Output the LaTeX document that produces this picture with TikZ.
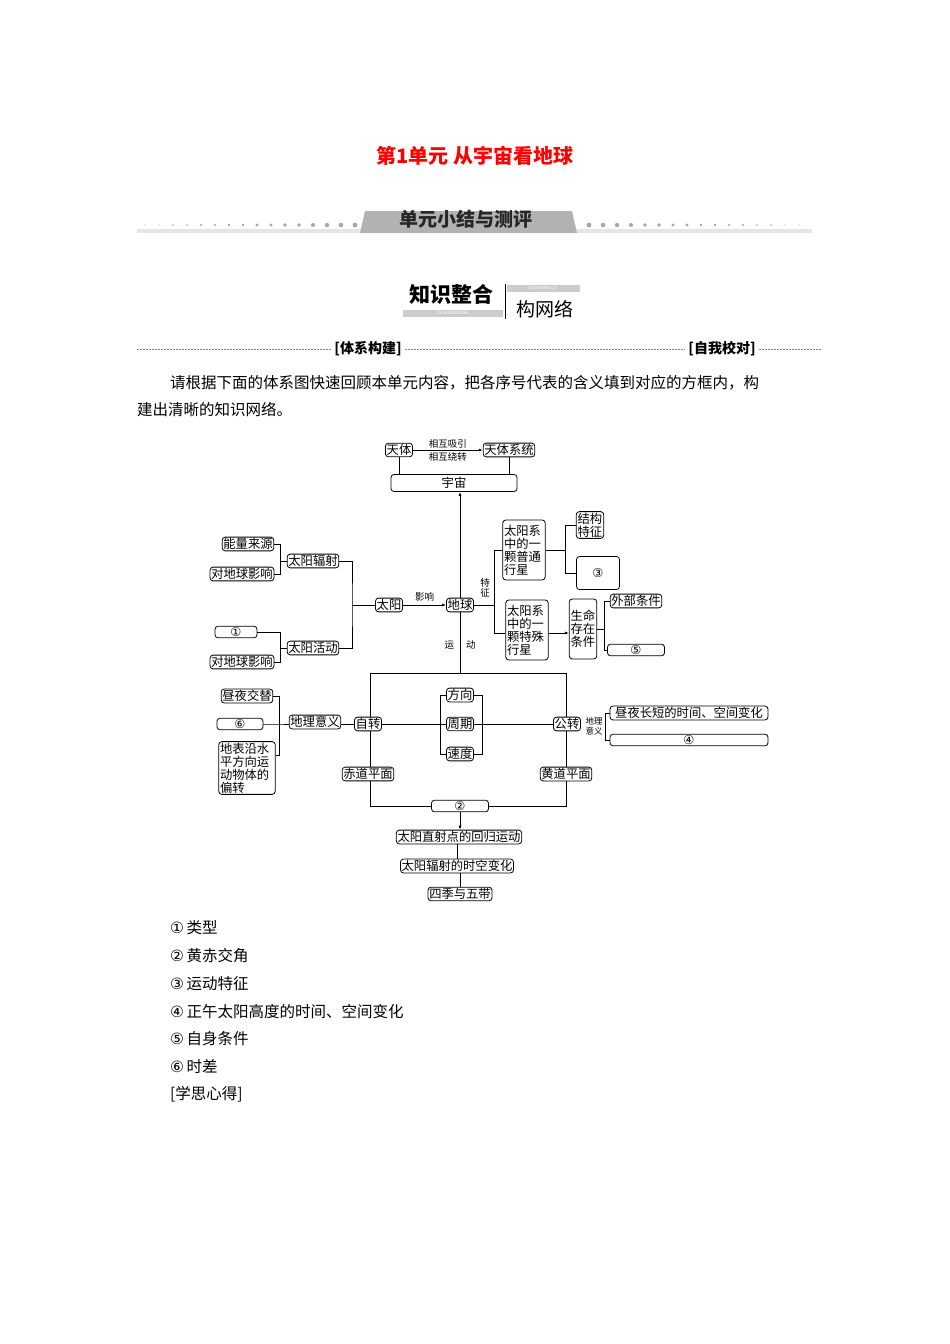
\documentclass[tikz,border=0pt]{standalone}
\usepackage{fontspec}
\setmainfont{Noto Sans CJK SC}
\newfontfamily\cjk{Noto Sans CJK SC}
\newfontfamily\dejavu{DejaVu Sans}
\usetikzlibrary{arrows.meta}
\begin{document}
\begin{tikzpicture}[x=1pt,y=-1pt,
  bx/.style={draw,rounded corners=3pt,line width=0.8pt,inner sep=1.2pt,font=\fontsize{12.3}{13}\selectfont,fill=white},
  lb/.style={font=\fontsize{9.5}{10}\selectfont,inner sep=0pt},
  ln/.style={line width=0.8pt},
  ar/.style={line width=0.8pt,-{Latex[length=4pt,width=3pt]}},
  tx/.style={anchor=west,font=\fontsize{15.5}{17}\selectfont,inner sep=0pt}]
\useasboundingbox (0,0) rectangle (950,1344);
% header
\node[text=red,font=\fontsize{20}{22}\selectfont\bfseries] (title) at (475,156) {第1单元\ 从宇宙看地球};
\fill[gray!20] (137,229) rectangle (812,233);
\foreach \i in {0,...,15}{\fill[gray!70] (145+\i*14,225) circle ({0.6+\i*0.12});}
\foreach \i in {0,...,15}{\fill[gray!70] (589+\i*14,225) circle ({2.4-\i*0.12});}
\fill[gray!60] (360,233) -- (365,211) -- (572,211) -- (577,233) -- cycle;
\node[font=\fontsize{19}{20}\selectfont\bfseries,text=black!85] (banner) at (466,219) {单元小结与测评};
\node[font=\fontsize{21}{22}\selectfont\bfseries] (zs) at (451,294) {知识整合};
\fill[gray!40] (403,310) rectangle (503,317);
\node[font=\fontsize{4}{4}\selectfont,text=white] (zp) at (453,313.5) {ZHISHIZHENGHE};
\fill[gray!40] (507,285) rectangle (580,292);
\node[font=\fontsize{4}{4}\selectfont,text=white] (gp) at (543,288.5) {GOUWANGLUO};
\draw[line width=0.8pt] (505,284) -- (505,319);
\node[font=\fontsize{19}{20}\selectfont] (gw) at (545,309) {构网络};
\node[font=\fontsize{14}{15}\selectfont\bfseries] (tx1) at (368,349) {[体系构建]};
\node[font=\fontsize{14}{15}\selectfont\bfseries] (tx2) at (722,349) {[自我校对]};
\draw[gray,dash pattern=on 1.5pt off 1.5pt] (137,349) -- (tx1.west);
\draw[gray,dash pattern=on 1.5pt off 1.5pt] (tx1.east) -- (tx2.west);
\draw[gray,dash pattern=on 1.5pt off 1.5pt] (tx2.east) -- (822,349);
\node[tx] (p1) at (170,383) {请根据下面的体系图快速回顾本单元内容，把各序号代表的含义填到对应的方框内，构};
\node[tx] (p2) at (137,410) {建出清晰的知识网络。};
% diagram
\node[bx] (tt) at (399,450) {天体};
\node[bx] (tts) at (509,450) {天体系统};
\draw[ar] (tt) -- (tts) node[midway,above=1pt,lb] {相互吸引} node[midway,below=2pt,lb] {相互绕转};
\node[bx,minimum width=126pt,minimum height=17pt] (yz) at (454,483) {宇宙};
\draw[ln] (tt.south) -- (tt.south|-yz.north);
\draw[ln] (tts.south) -- (tts.south|-yz.north);
\node[bx] (dq) at (460,605) {地球};
\draw[ar] (dq.north) -- (dq.north|-yz.south);
\node[bx] (ty) at (389,605) {太阳};
\draw[ar] (ty) -- (dq) node[midway,above=3pt,lb] {影响};
\node[bx] (fs) at (313,561) {太阳辐射};
\node[bx] (hd) at (313,648) {太阳活动};
\draw[ln] (fs.east) -| (352,605) |- (hd.east); \draw[ln] (352,605) -- (ty.west);
\node[bx] (nl) at (248,544) {能量来源};
\node[bx] (yx1) at (242,574) {对地球影响};
\draw[ln] (nl.east) -| (280,574) -- (yx1.east); \draw[ln] (280,561) -- (fs.west);
\node[bx,minimum width=42pt] (c1) at (236,632) {\dejavu ①};
\node[bx] (yx2) at (242,662) {对地球影响};
\draw[ln] (c1.east) -| (280,662) -- (yx2.east); \draw[ln] (280,648) -- (hd.west);
% right upper
\node[lb,align=center] (tz) at (485,588) {特\\征};
\node[bx,align=left,text width=40pt,minimum height=60pt] (pt) at (524,550) {太阳系\\中的一\\颗普通\\行星};
\node[bx,align=left,text width=40pt,minimum height=60pt] (ts) at (527,630) {太阳系\\中的一\\颗特殊\\行星};
\draw[ln] (dq.east) -- (494,605);
\draw[ln] (pt.west) -| (494,633) -- (ts.west|-0,633);
\node[bx,align=left,text width=25pt] (jg) at (590,525) {结构\\特征};
\node[bx,minimum width=43pt,minimum height=33pt] (c3) at (598,573) {\dejavu ③};
\draw[ln] (jg.west) -| (565,573) -- (c3.west); \draw[ln] (565,550) -- (pt.east);
\node[bx,align=left,text width=25pt,minimum height=60pt] (sm) at (583,629) {生命\\存在\\条件};
\draw[ar] (ts.east|-0,633) -- (sm.west|-0,633);
\node[bx] (wb) at (636,601) {外部条件};
\node[bx,minimum width=57pt] (c5) at (636,650) {\dejavu ⑤};
\draw[ln] (wb.west) -| (604,650) -- (c5.west); \draw[ln] (604,629) -- (sm.east);
\node[lb] (yd) at (460,645) {运\hspace{12pt}动};
% rectangle
\node[bx] (zz) at (368,724) {自转};
\node[bx] (gz) at (567,724) {公转};
\node[bx,minimum width=57pt] (c2) at (460,806) {\dejavu ②};
\coordinate (tl) at (370,673); \coordinate (tr) at (566,673);
\draw[ln] (dq.south) -- (460,673);
\draw[ln] (tl) -- (tr);
\draw[ln] (tl) -- (zz.north -| tl); \draw[ln] (zz.south -| tl) -- (370,806) -- (c2.west);
\draw[ln] (tr) -- (gz.north -| tr); \draw[ln] (gz.south -| tr) -- (566,806) -- (c2.east);
\node[bx] (cd) at (368,774) {赤道平面};
\node[bx] (hdp) at (566,774) {黄道平面};
\node[bx] (fx) at (460,695) {方向};
\node[bx] (zq) at (460,724) {周期};
\node[bx] (sd) at (460,754) {速度};
\draw[ln] (zz) -- (zq) -- (gz);
\draw[ln] (fx.west) -| (440,754) -- (sd.west);
\draw[ln] (fx.east) -| (482,754) -- (sd.east);
\node[bx] (dl) at (315,722) {地理意义};
\draw[ln] (zz.west) -- (dl.east|-zz.west);
\node[bx] (zy) at (247,696) {昼夜交替};
\node[bx,minimum width=46pt] (c6) at (240,724) {\dejavu ⑥};
\node[bx,align=left,text width=54pt] (pz) at (247,768) {地表沿水\\平方向运\\动物体的\\偏转};
\draw[ln] (zy.east) -| (279,755) -- (pz.east|-0,755);
\draw[ln] (c6.east) -- (279,724) -- (dl.west|-0,724);
\node[lb,align=center,font=\fontsize{8.5}{10}\selectfont] (dl2) at (594,726) {地理\\意义};
\node[bx,minimum width=158pt] (zc) at (689,713) {昼夜长短的时间、空间变化};
\node[bx,minimum width=158pt] (c4) at (689,740) {\dejavu ④};
\draw[ln] (zc.west) -| (605,740) -- (c4.west);
% bottom chain
\node[bx] (hg) at (459,837) {太阳直射点的回归运动};
\node[bx] (sk) at (457,866) {太阳辐射的时空变化};
\node[bx] (sj) at (460,894) {四季与五带};
\draw[ar] (c2.south) -- (c2.south|-hg.north);
\draw[ln] (hg.south-|sk.north) -- (sk.north);
\draw[ln] (sk.south-|sj.north) -- (sj.north);
% answers
\foreach \t [count=\i] in {{\dejavu ①}\,类型,{\dejavu ②}\,黄赤交角,{\dejavu ③}\,运动特征,{\dejavu ④}\,正午太阳高度的时间、空间变化,{\dejavu ⑤}\,自身条件,{\dejavu ⑥}\,时差}
  \node[tx] (a\i) at (170,900+\i*27.8) {\t};
\node[tx] (xs) at (170,1094) {[学思心得]};
\end{tikzpicture}
\end{document}
